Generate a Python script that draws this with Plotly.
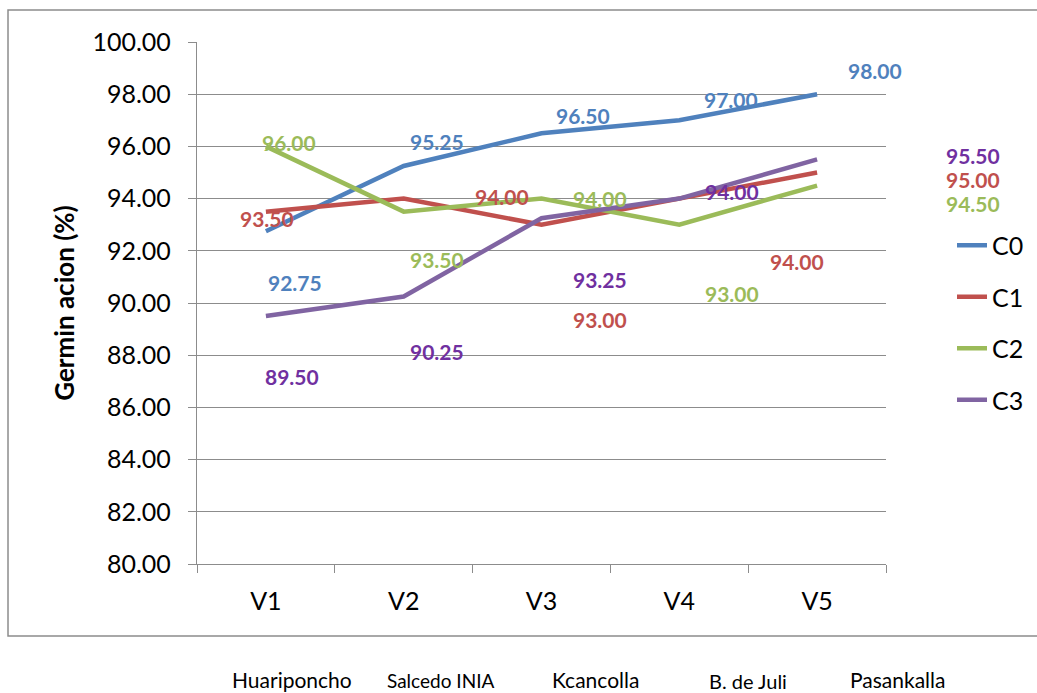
import plotly.graph_objects as go

# Germination (%) per variety and treatment
categories = ["V1", "V2", "V3", "V4", "V5"]
varieties = ["Huariponcho", "Salcedo INIA", "Kcancolla", "B. de Juli", "Pasankalla"]
series_names = ["C0", "C1", "C2", "C3"]
c0 = [92.75, 95.25, 96.50, 97.00, 98.00]
c1 = [93.50, 94.00, 93.00, 94.00, 95.00]
c2 = [96.00, 93.50, 94.00, 93.00, 94.50]
c3 = [89.50, 90.25, 93.25, 94.00, 95.50]
y_ticks = [80, 82, 84, 86, 88, 90, 92, 94, 96, 98, 100]

series_values = [c0, c1, c2, c3]

# styling
line_colors = ["#4F81BD", "#C0504D", "#9BBB59", "#8064A2"]
label_colors = ["#4F81BD", "#C0504D", "#9BBB59", "#7030A0"]
FONT = "Lato, Calibri, sans-serif"
GRID = "#8C8C8C"

# pixel offsets of each value label from its point (dx, dy; dy positive = up)
label_offsets = [
    [(29, -51), (33, 24), (41, 18), (52, 21), (58, 24)],
    [(1, -7), (98, 2), (58, -95), (118, -63), (156, -7)],
    [(23, 4), (33, -48), (58, 0), (53, -69), (156, -18)],
    [(26, -60), (33, -55), (58, -61), (53, 7), (156, 4)],
]

fig = go.Figure()
for name, vals, col in zip(series_names, series_values, line_colors):
    fig.add_trace(go.Scatter(
        x=categories, y=vals, name=name, mode="lines",
        line=dict(color=col, width=4.5),
        legendgroup=name, hoverinfo="skip",
    ))

annotations = []
for vals, col, offs in zip(series_values, label_colors, label_offsets):
    for cat, v, (dx, dy) in zip(categories, vals, offs):
        annotations.append(dict(
            x=cat, y=v, xref="x", yref="y", text=f"<b>{v:.2f}</b>",
            showarrow=False, xshift=dx, yshift=dy,
            font=dict(family=FONT, size=21, color=col),
            xanchor="center", yanchor="middle",
        ))

# variety names under the chart box
variety_x = [0.138, 0.353, 0.578, 0.800, 1.017]
variety_sizes = [21, 19, 21, 20, 21]
variety_y = [-0.2205, -0.2235, -0.2205, -0.2245, -0.2215]
for name, vx, vy, fs in zip(varieties, variety_x, variety_y, variety_sizes):
    annotations.append(dict(
        x=vx, y=vy, xref="paper", yref="paper", text=name, showarrow=False,
        font=dict(family=FONT, size=fs, color="#000000"),
        xanchor="center", yanchor="middle",
    ))

fig.update_layout(
    width=1037, height=693,
    margin=dict(l=197, r=151, t=42, b=129, pad=0, autoexpand=False),
    paper_bgcolor="white", plot_bgcolor="white",
    font=dict(family=FONT, color="#000000"),
    showlegend=True,
    legend=dict(
        x=1.0958, y=0.654, xanchor="left", yanchor="top",
        font=dict(family=FONT, size=25, color="#000000"),
        tracegroupgap=16, bgcolor="rgba(0,0,0,0)",
        itemwidth=30,
    ),
    annotations=annotations,
    shapes=[dict(
        type="rect", xref="paper", yref="paper",
        x0=-0.2743, x1=1.25, y0=-0.1379, y1=1.0613,
        line=dict(color="#8C8C8C", width=1.5), fillcolor="rgba(0,0,0,0)",
        layer="below",
    )],
)

fig.update_xaxes(
    type="category", range=[-0.5, 4.5],
    showline=True, linecolor=GRID, linewidth=1.3,
    ticks="outside", tickson="boundaries", ticklen=8, tickcolor=GRID, tickwidth=1.3,
    showgrid=False, zeroline=False,
    tickfont=dict(family=FONT, size=25, color="#000000"),
    ticklabelstandoff=15,
)
fig.update_yaxes(
    range=[80, 100], tickvals=y_ticks, tickformat=".2f",
    showline=True, linecolor=GRID, linewidth=1.3,
    ticks="outside", ticklen=8, tickcolor=GRID, tickwidth=1.3,
    showgrid=True, gridcolor=GRID, gridwidth=1.3, zeroline=False,
    tickfont=dict(family=FONT, size=25, color="#000000"),
    ticklabelstandoff=12,
    title=dict(text="<b>Germin acion (%)</b>", standoff=10,
               font=dict(family=FONT, size=26, color="#000000")),
)

fig.write_html("out.html")
